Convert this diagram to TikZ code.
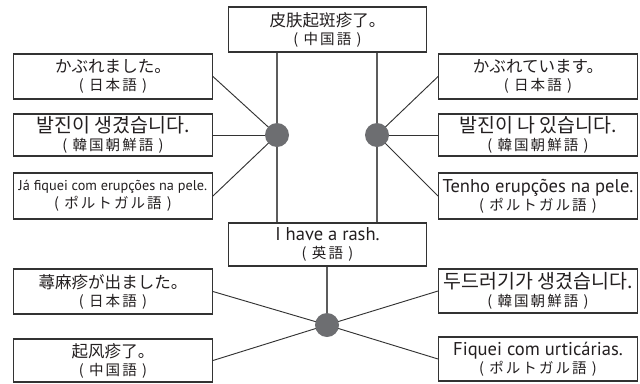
\documentclass[tikz,border=0pt]{standalone}
\usepackage{fontspec}
\setmainfont{PT Sans}
\newfontfamily\jp{Noto Sans CJK JP}
\newfontfamily\jplab[LetterSpace=14]{Noto Sans CJK JP}
\newfontfamily\zh{Noto Sans CJK SC}
\newfontfamily\ko{Noto Sans CJK KR}
\usetikzlibrary{backgrounds}
\lineskiplimit=-100pt
\definecolor{ink}{HTML}{231F20}
\definecolor{edge}{HTML}{333333}
\definecolor{dotc}{HTML}{6D6E71}
\newcommand{\cjkln}[2]{{#1\fontsize{12.4}{13.5}\selectfont #2}}
\newcommand{\koln}[1]{{\ko\fontsize{14.6}{13.5}\selectfont #1}}
\newcommand{\latln}[1]{{\fontsize{13.9}{13.5}\selectfont #1}}
\newcommand{\langln}[1]{{\jplab\fontsize{10.9}{13.5}\selectfont #1}}
\tikzset{
  phrase/.style={draw=edge, line width=0.9pt, fill=white, inner sep=0pt,
    text=ink, align=center, minimum width=149pt,
    font={\fontsize{10}{13.5}\selectfont}},
  hub/.style={circle, fill=dotc, inner sep=0pt, minimum size=18pt},
  link/.style={draw=edge, line width=0.7pt},
  stem/.style={draw=edge!80, line width=0.8pt}
}
\begin{document}
\begin{tikzpicture}[x=0.75pt,y=-0.75pt]
\useasboundingbox (0,0) rectangle (640,383);
% boxes
\node[phrase, minimum height=33.75pt] (zhT) at (327.5,29.5)
  {\cjkln{\zh}{皮肤起斑疹了。}\\\langln{( 中国語 )}};
\node[phrase, minimum height=33.75pt] (L1) at (113,76.5)
  {\cjkln{\jp}{かぶれました。}\\\langln{( 日本語 )}};
\node[phrase, minimum height=31.5pt] (L2) at (113,135)
  {\koln{발진이 생겼습니다.}\\\langln{( 韓国朝鮮語 )}};
\node[phrase, minimum height=34.5pt] (L3) at (113,196)
  {{\fontsize{10.7}{13.5}\selectfont Já fiquei com erupções na pele.}\\\langln{( ポルトガル語 )}};
\node[phrase, minimum height=33.75pt] (R1) at (538,76.5)
  {\cjkln{\jp}{かぶれています。}\\\langln{( 日本語 )}};
\node[phrase, minimum height=31.5pt] (R2) at (538,135)
  {\koln{발진이 나 있습니다.}\\\langln{( 韓国朝鮮語 )}};
\node[phrase, minimum height=34.5pt] (R3) at (538,196)
  {\latln{Tenho erupções na pele.}\\\langln{( ポルトガル語 )}};
\node[phrase, minimum height=32.25pt] (en) at (327.5,244.5)
  {\latln{I have a rash.}\\\langln{( 英語 )}};
\node[phrase, minimum height=33.75pt] (BL1) at (113,291.5)
  {\cjkln{\jp}{蕁麻疹が出ました。}\\\langln{( 日本語 )}};
\node[phrase, minimum height=32.25pt] (BL2) at (113,360.5)
  {\cjkln{\zh}{起风疹了。}\\\langln{( 中国語 )}};
\node[phrase, minimum height=33pt] (BR1) at (538,291)
  {\koln{두드러기가 생겼습니다.}\\\langln{( 韓国朝鮮語 )}};
\node[phrase, minimum height=33pt] (BR2) at (538,359)
  {\latln{Fiquei com urticárias.}\\\langln{( ポルトガル語 )}};
% hubs
\node[hub] (hL) at (277,135) {};
\node[hub] (hR) at (377,135) {};
\node[hub] (hB) at (327,325) {};
% connectors
\begin{scope}[on background layer]
\draw[stem] (zhT.south -| hL) -- (en.north -| hL);
\draw[stem] (zhT.south -| hR) -- (en.north -| hR);
\draw[stem] (en.south -| hB) -- (hB);
\draw[link] (hL.center) -- (L1.east);
\draw[link] (hL.center) -- (L2.east);
\draw[link] (hL.center) -- (L3.east);
\draw[link] (hR.center) -- (R1.west);
\draw[link] (hR.center) -- (R2.west);
\draw[link] (hR.center) -- (R3.west);
\draw[link] (hB.center) -- (BL1.east);
\draw[link] (hB.center) -- (BL2.east);
\draw[link] (hB.center) -- (BR1.west);
\draw[link] (hB.center) -- (BR2.west);
\end{scope}
\end{tikzpicture}
\end{document}
